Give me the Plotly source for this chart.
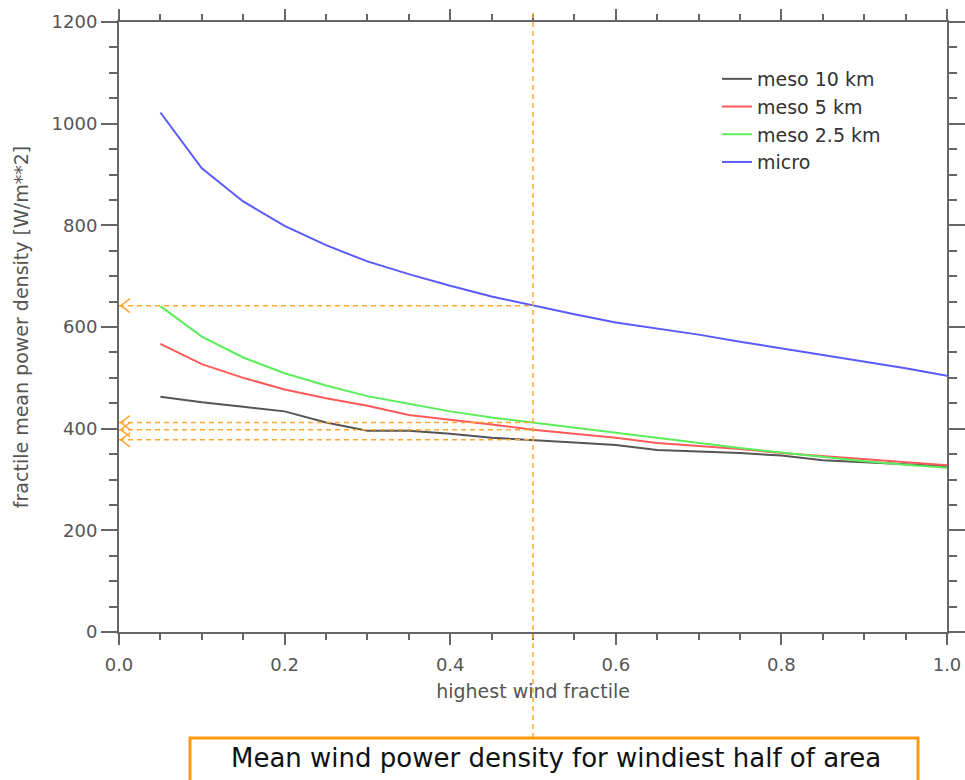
import plotly.graph_objects as go

# ---- data ----
fractile = [0.05, 0.10, 0.15, 0.20, 0.25, 0.30, 0.35, 0.40, 0.45, 0.50,
            0.55, 0.60, 0.65, 0.70, 0.75, 0.80, 0.85, 0.90, 0.95, 1.00]
meso_10km = [463, 452, 443, 434, 412, 396, 396, 390, 382, 378,
             373, 368, 358, 355, 352, 347, 338, 334, 330, 326]
meso_5km = [567, 527, 500, 477, 460, 445, 427, 418, 408, 398,
            390, 382, 372, 366, 360, 352, 346, 339, 334, 328]
meso_2_5km = [641, 581, 540, 509, 485, 464, 449, 434, 422, 412,
              402, 392, 381, 372, 362, 353, 344, 336, 329, 323]
micro = [1022, 912, 847, 799, 761, 729, 704, 681, 660, 642,
         625, 609, 597, 585, 571, 558, 545, 532, 519, 504]

series_names = ["meso 10 km", "meso 5 km", "meso 2.5 km", "micro"]
series_values = [meso_10km, meso_5km, meso_2_5km, micro]
series_colors = ["#555555", "#ff5a5a", "#5aee5a", "#5a5aff"]

highlight_x = 0.5
box_text = "Mean wind power density for windiest half of area"
x_title = "highest wind fractile"
y_title = "fractile mean power density [W/m**2]"

ORANGE = "#ffa733"
AXIS = "#666666"
FONT = "DejaVu Sans"

L, R, T, B = 119, 18, 22, 148
PW, PH = 965 - L - R, 780 - T - B

fig = go.Figure()
for i, (name, vals, col) in enumerate(zip(series_names, series_values, series_colors)):
    fig.add_trace(go.Scatter(x=fractile, y=vals, mode="lines", name=name,
                             legendgroup=f"g{i}",
                             line=dict(color=col, width=2)))

shapes = []
# vertical dashed line at x = 0.5
shapes.append(dict(type="line", xref="x", yref="paper", x0=highlight_x, x1=highlight_x,
                   y0=(T + PH - 738) / PH, y1=(T + PH - 10) / PH,
                   line=dict(color=ORANGE, width=1.5, dash="5px,4px"), layer="above"))
# horizontal dashed lines and chevrons at each series value at x = 0.5
idx = fractile.index(highlight_x)
px_per_x = 1.0 / PW
px_per_y = 1200.0 / PH
for vals in series_values:
    yv = vals[idx]
    shapes.append(dict(type="line", xref="x", yref="y", x0=0, x1=highlight_x,
                       y0=yv, y1=yv, line=dict(color=ORANGE, width=1.5, dash="5px,4px")))
    dx = 11 * px_per_x
    dy = 7 * px_per_y
    shapes.append(dict(type="path", xref="x", yref="y",
                       path=f"M {dx},{yv + dy} L 0.002,{yv} L {dx},{yv - dy}",
                       line=dict(color=ORANGE, width=1.5)))
# caption box
shapes.append(dict(type="rect", xref="paper", yref="paper",
                   x0=(190 - L) / PW, x1=(918 - L) / PW,
                   y0=(T + PH - 800) / PH, y1=(T + PH - 738) / PH,
                   line=dict(color="#ff9a10", width=3), fillcolor="white"))

fig.update_layout(
    width=965, height=780,
    margin=dict(l=L, r=R, t=T, b=B, autoexpand=False),
    paper_bgcolor="white", plot_bgcolor="white",
    font=dict(family=FONT, color="#555555", size=18),
    shapes=shapes,
    showlegend=True,
    legend=dict(x=(717 - L) / PW, y=(T + PH - 60) / PH, xanchor="left", yanchor="top",
                bgcolor="rgba(0,0,0,0)", font=dict(size=19, color="#333333", family=FONT),
                tracegroupgap=17, traceorder="normal"),
    annotations=[dict(text=box_text, xref="paper", yref="paper",
                      x=(556 - L) / PW, y=(T + PH - 758) / PH,
                      showarrow=False, font=dict(family=FONT, size=26, color="#111111"),
                      xanchor="center", yanchor="middle")],
)

fig.update_xaxes(range=[0, 1.0], dtick=0.2, tick0=0, tickformat=".1f", automargin=False,
                 showgrid=False, zeroline=False, showline=True, linecolor=AXIS, linewidth=2,
                 mirror="ticks", ticks="outside", ticklen=11, tickwidth=2, tickcolor=AXIS,
                 minor=dict(dtick=0.05, ticks="outside", ticklen=6, tickwidth=2, tickcolor=AXIS),
                 tickfont=dict(size=18, color="#555555"), ticklabelstandoff=4,
                 title=dict(text=x_title, font=dict(size=19, color="#555555"), standoff=11))
fig.update_yaxes(range=[0, 1200], dtick=200, tick0=0, automargin=False,
                 showgrid=False, zeroline=False, showline=True, linecolor=AXIS, linewidth=2,
                 mirror="ticks", ticks="outside", ticklen=16, tickwidth=2, tickcolor=AXIS,
                 minor=dict(dtick=50, ticks="outside", ticklen=8, tickwidth=2, tickcolor=AXIS),
                 tickfont=dict(size=18, color="#555555"),
                 title=dict(text=y_title, font=dict(size=19, color="#555555"), standoff=18))

fig.write_html("out.html")
